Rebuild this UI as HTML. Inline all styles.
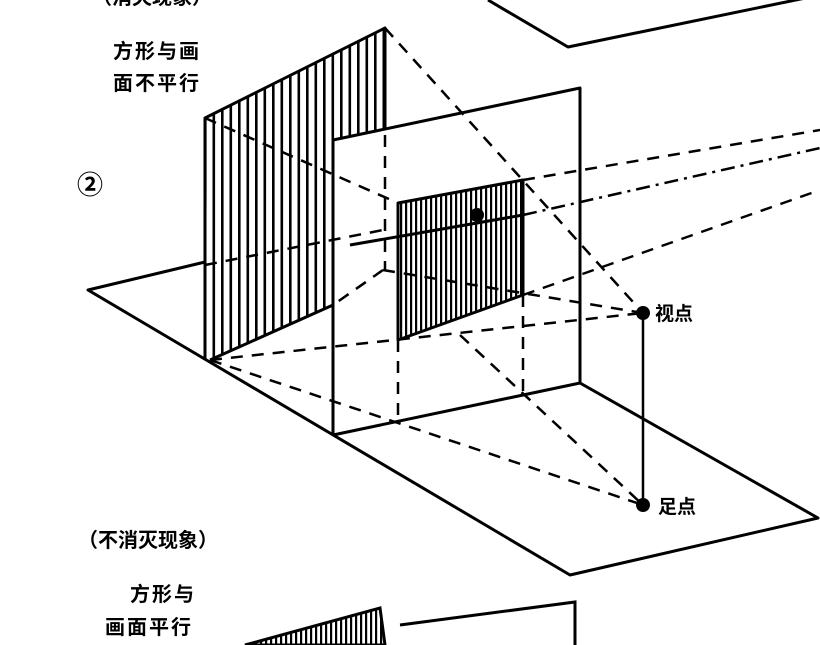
<!DOCTYPE html>
<html><head><meta charset="utf-8"><style>
body{margin:0;background:#fff;}
svg{display:block}
text{font-family:"Liberation Sans","Noto Sans CJK SC",sans-serif;font-weight:bold;fill:#000}
</style></head><body>
<svg width="820" height="645" viewBox="0 0 820 645" xmlns="http://www.w3.org/2000/svg">
<defs>
<pattern id="h" width="8.5" height="10" patternUnits="userSpaceOnUse"><rect x="0" y="0" width="2.6" height="10" fill="#000"/></pattern>
<pattern id="h2" width="5" height="10" patternUnits="userSpaceOnUse"><rect x="0" y="0" width="2.2" height="10" fill="#000"/></pattern>
</defs>
<g stroke="#000" stroke-width="3" fill="none" stroke-linejoin="round">
<polyline points="488,0 568,47 820,-5"/>
<polyline points="205,262 88,290 570,575 818,518 580,383"/>
<polygon points="205,118 385,28 385,135 333,140 333,305 210,360" fill="url(#h)" stroke="none"/>
<polyline points="205,360 205,118 385,28 385,135"/>
<line x1="210" y1="360" x2="333" y2="305"/>
<polygon points="333,140 580,88 580,383 333,435" fill="#fff" stroke="none"/>
<polyline points="333,435 333,140 580,88 580,383 333,435"/>
<polygon points="398,203 523,180 523,295 398,340" fill="url(#h2)" stroke-width="3"/>
<line x1="643" y1="313" x2="643" y2="505" stroke-width="2.5"/>
</g>
<g stroke="#000" stroke-width="2.5" fill="none" stroke-dasharray="12,9">
<line x1="385" y1="28" x2="643" y2="313"/>
<line x1="205" y1="118" x2="398" y2="203"/>
<line x1="210" y1="360" x2="643" y2="313"/>
<line x1="210" y1="360" x2="643" y2="505"/>
<line x1="385" y1="135" x2="385" y2="270"/>
<line x1="398" y1="340" x2="398" y2="420"/>
<line x1="523" y1="295" x2="523" y2="398"/>
<line x1="383" y1="270" x2="643" y2="313"/>
<line x1="383" y1="270" x2="333" y2="305"/>
<line x1="523" y1="180" x2="820" y2="130"/>
<line x1="523" y1="295" x2="820" y2="190"/>
<line x1="460" y1="335" x2="643" y2="505"/>
<line x1="205" y1="265" x2="383" y2="230"/>
</g>
<line x1="523" y1="215" x2="820" y2="148" stroke="#000" stroke-width="2.5" stroke-dasharray="14,6,3,6"/>
<line x1="350" y1="245" x2="523" y2="215" stroke="#000" stroke-width="3"/>
<circle cx="643" cy="313" r="7" fill="#000"/>
<circle cx="643" cy="505" r="7" fill="#000"/>
<circle cx="477" cy="215" r="7" fill="#000"/>
<g stroke="#000" stroke-width="3" fill="none">
<polygon points="245,645 380,608 385,645" fill="url(#h2)"/>
<polyline points="400,625 575,602 575,645"/>
</g>
<text x="92" y="4" font-size="20">（消灭现象）</text>
<text x="113" y="58" font-size="20" letter-spacing="2">方形与画</text>
<text x="113" y="90" font-size="20" letter-spacing="2">面不平行</text>
<text x="77" y="194" font-size="26" font-weight="normal">②</text>
<text x="655" y="320" font-size="19">视点</text>
<text x="658" y="513" font-size="19">足点</text>
<text x="78" y="547" font-size="20">（不消灭现象）</text>
<text x="130" y="601" font-size="20" letter-spacing="2">方形与</text>
<text x="105" y="634" font-size="20" letter-spacing="2">画面平行</text>
</svg>
</body></html>
